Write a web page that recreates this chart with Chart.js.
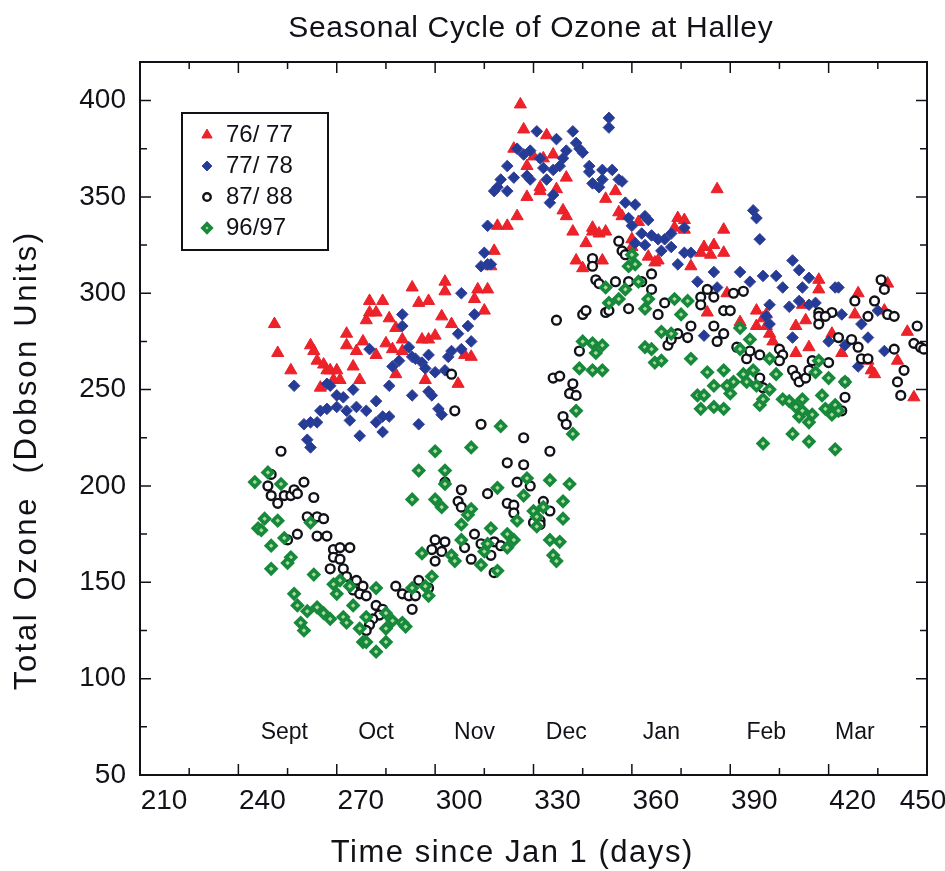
<!DOCTYPE html>
<html>
<head>
<meta charset="utf-8">
<script src="https://cdn.jsdelivr.net/npm/chart.js@4.4.0/dist/chart.umd.min.js"></script>
<style>
  html, body { margin: 0; background: #fff; }
  #wrap { width: 945px; height: 871px; }
</style>
</head>
<body>
<div id="wrap"><canvas id="ozone"></canvas></div>
<script>
// values: [day since Jan 1, total ozone DU]
var ozone7677 = [
  [251,284],[252,269],[256,260],[262,273],[263,270],[264,265],[265,251],[266,263],[267,260],[268,260],
  [269,255],[270,260],[271,255],[273,279],[273,273],[275,262],[276,270],[277,255],[278,275],[279,286],
  [280,290],[280,296],[282,290],[282,268],[284,296],[285,274],[286,287],[287,271],[288,282],[288,258],
  [290,276],[290,270],[293,303],[295,295],[296,276],[297,255],[298,276],[298,296],[300,278],[302,288],
  [303,306],[303,301],[305,284],[307,253],[309,268],[311,267],[312,297],[313,302],[315,291],[316,302],
  [317,314],[318,322],[319,335],[322,335],[324,375],[325,340],[326,398],[327,385],[328,350],[328,366],
  [330,371],[332,355],[332,353],[333,370],[334,382],[336,372],[337,354],[339,343],[340,340],[340,360],
  [342,332],[343,317],[345,313],[346,326],[348,332],[348,334],[350,331],[351,317],[352,332],[352,349],
  [355,353],[356,342],[357,340],[360,328],[360,324],[362,337],[365,319],[367,316],[368,317],[373,334],
  [374,339],[376,333],[376,338],[378,314],[381,321],[382,324],[383,290],[384,320],[385,325],[386,354],
  [388,333],[388,321],[389,300],[393,285],[398,291],[398,283],[400,287],[401,283],[401,289],[402,279],
  [403,275],[410,283],[410,269],[412,294],[413,286],[414,272],[417,302],[417,307],[421,279],[424,269],
  [428,289],[429,300],[432,265],[433,260],[434,258],[437,291],[438,305],[441,265],[444,280],[446,246]
];
var ozone7778 = [
  [257,252],[260,232],[261,224],[262,220],[262,233],[264,233],[265,239],[267,240],[267,253],[268,252],
  [270,247],[270,241],[272,246],[273,239],[274,234],[275,250],[276,241],[277,226],[279,239],[280,271],
  [282,244],[282,233],[284,228],[284,236],[286,252],[286,236],[287,262],[289,265],[290,283],[290,289],
  [292,272],[293,267],[293,247],[294,266],[295,232],[296,264],[297,261],[298,249],[298,268],[299,247],
  [300,259],[301,240],[302,237],[303,260],[304,267],[305,270],[307,279],[308,300],[308,271],[310,283],
  [311,275],[312,289],[314,314],[315,321],[316,315],[316,335],[317,315],[318,353],[319,355],[320,359],
  [322,353],[322,366],[324,360],[325,375],[327,372],[328,361],[329,374],[329,359],[331,384],[332,370],
  [333,365],[334,359],[335,347],[336,351],[336,364],[337,380],[338,366],[339,370],[340,374],[342,384],
  [343,378],[344,375],[345,373],[347,363],[347,366],[348,357],[350,355],[351,364],[351,359],[353,391],
  [353,386],[354,364],[356,359],[357,358],[358,347],[359,339],[360,335],[361,346],[361,326],[363,331],
  [364,325],[364,340],[365,338],[366,330],[368,328],[369,322],[370,328],[372,331],[372,324],[374,315],
  [376,334],[376,321],[378,321],[380,306],[382,278],[385,311],[386,303],[393,311],[396,306],[397,343],
  [398,339],[399,328],[400,309],[401,288],[402,284],[402,294],[404,309],[406,303],[408,293],[409,317],
  [409,277],[411,312],[411,296],[412,303],[414,308],[414,294],[416,295],[420,275],[422,303],[423,303],
  [424,289],[425,273],[429,262],[430,284],[432,277],[435,291],[437,270]
];
var ozone8788 = [
  [249,200],[250,206],[250,195],[252,191],[253,218],[254,195],[256,195],[257,198],[258,196],[260,202],
  [263,194],[261,184],[264,184],[266,183],[258,175],[255,172],[264,174],[267,174],[269,167],[271,168],
  [274,168],[269,163],[271,162],[268,157],[272,157],[273,153],[276,151],[278,148],[275,146],[277,144],
  [279,143],[282,138],[284,136],[283,133],[281,131],[280,128],[279,125],[288,148],[290,144],[292,143],
  [294,143],[293,136],[295,151],[298,147],[299,167],[300,172],[303,171],[302,166],[300,161],[303,202],
  [305,258],[306,239],[307,192],[308,198],[308,189],[309,168],[311,162],[312,175],[314,170],[314,232],
  [316,196],[317,164],[318,171],[320,169],[318,155],[322,191],[322,212],[324,190],[324,186],[325,202],
  [327,211],[327,225],[329,200],[330,181],[332,182],[332,180],[333,192],[335,187],[335,218],[336,256],
  [337,286],[338,257],[339,236],[340,232],[341,248],[342,253],[343,247],[344,270],[345,289],[346,291],
  [348,318],[348,314],[349,307],[350,305],[352,290],[353,291],[355,306],[356,327],[357,322],[358,320],
  [359,306],[359,292],[363,306],[366,310],[366,302],[368,289],[370,295],[371,273],[372,276],[374,279],
  [377,277],[378,283],[381,298],[381,294],[383,302],[385,298],[385,283],[386,275],[388,279],[388,291],
  [390,291],[391,300],[392,272],[394,301],[395,266],[396,270],[399,268],[399,256],[400,251],[405,271],
  [406,268],[405,265],[409,260],[415,265],[410,257],[411,254],[413,256],[414,260],[417,290],[421,290],
  [417,288],[419,288],[417,284],[420,264],[423,277],[427,276],[428,296],[429,272],[430,266],[432,266],
  [432,288],[434,296],[436,307],[437,302],[438,289],[440,288],[440,271],[441,254],[442,247],[443,260],
  [425,254],[425,246],[424,239],[447,283],[446,274],[448,272],[449,271]
];
var ozone9697 = [
  [245,202],[249,207],[253,201],[248,183],[252,182],[246,178],[247,177],[262,181],[254,173],[250,169],
  [256,163],[255,160],[250,157],[263,154],[271,151],[269,149],[274,148],[257,144],[270,144],[258,138],
  [261,135],[264,137],[266,134],[268,131],[272,132],[273,129],[259,129],[260,125],[275,138],[277,126],
  [278,119],[279,119],[282,114],[282,147],[285,134],[287,130],[285,126],[285,119],[290,129],[291,127],
  [293,147],[296,165],[297,148],[298,143],[279,132],[295,208],[293,193],[299,153],[300,193],[300,218],
  [302,189],[303,201],[303,208],[305,164],[306,161],[308,172],[308,180],[310,185],[311,188],[311,220],
  [314,159],[315,166],[316,170],[317,178],[319,156],[319,199],[320,231],[322,175],[322,168],[324,172],
  [325,182],[327,195],[328,204],[330,187],[331,184],[331,179],[333,189],[335,203],[335,172],[336,164],
  [337,161],[338,171],[339,192],[339,183],[341,201],[342,227],[343,239],[344,261],[345,275],[348,274],
  [348,260],[349,269],[351,273],[351,260],[352,303],[353,295],[356,297],[358,302],[359,314],[360,320],
  [361,315],[362,306],[364,292],[364,272],[365,297],[366,271],[367,264],[369,265],[369,280],[372,279],
  [373,297],[375,289],[377,296],[378,266],[380,247],[381,240],[382,247],[383,259],[385,241],[385,252],
  [388,240],[388,260],[389,252],[390,248],[391,254],[393,282],[393,271],[394,258],[395,254],[396,276],
  [397,260],[398,252],[399,242],[400,245],[400,222],[402,266],[402,250],[404,258],[406,245],[408,244],
  [409,227],[410,241],[411,236],[412,245],[412,239],[414,233],[414,223],[415,237],[416,259],[417,265],
  [418,247],[419,240],[420,256],[421,237],[422,242],[422,219],[423,239],[425,254]
];

var seriesLabels = ["76/ 77", "77/ 78", "87/ 88", "96/97"];
var xTickLabels = [210, 240, 270, 300, 330, 360, 390, 420, 450];
var yTickLabels = [50, 100, 150, 200, 250, 300, 350, 400];
var monthNames = ["Sept", "Oct", "Nov", "Dec", "Jan", "Feb", "Mar"];
var monthDays = [254, 282, 312, 340, 369, 401, 428];

var FONT = "'Liberation Sans', Arial, sans-serif";
var INK = "#111118";

function toPoints(rows) {
  return rows.map(function (r) { return { x: r[0], y: r[1] }; });
}

var styles = [
  { pointStyle: "triangle", radius: 7, borderWidth: 1, borderColor: "#e8202a", backgroundColor: "#ee2229" },
  { pointStyle: "rectRot", radius: 5.8, borderWidth: 1, borderColor: "#3a3f9a", backgroundColor: "#233d96" },
  { pointStyle: "circle", radius: 4.4, borderWidth: 2.4, borderColor: INK, backgroundColor: "#ffffff" },
  { pointStyle: "rectRot", radius: 4.8, borderWidth: 3.6, borderColor: "#17893a", backgroundColor: "#a9d9a0" }
];
var seriesData = [ozone7677, ozone7778, ozone8788, ozone9697];

var datasets = seriesData.map(function (rows, i) {
  var s = styles[i];
  return {
    label: seriesLabels[i],
    data: toPoints(rows),
    pointStyle: s.pointStyle,
    pointRadius: s.radius,
    pointBorderWidth: s.borderWidth,
    pointBorderColor: s.borderColor,
    pointBackgroundColor: s.backgroundColor,
    showLine: false,
    order: 3 - i
  };
});

// draw text stretched to a given width with letter spacing
function spacedText(ctx, text, x, y, width) {
  ctx.letterSpacing = "0px";
  var w = ctx.measureText(text).width;
  var sp = Math.max(0, (width - w) / text.length);
  ctx.letterSpacing = sp + "px";
  ctx.fillText(text, x + sp / 2, y);
  ctx.letterSpacing = "0px";
}

// frame, inward ticks, labels, legend
var decorPlugin = {
  id: "decor",
  afterDraw: function (chart) {
    var ctx = chart.ctx;
    var a = chart.chartArea;
    var xs = chart.scales.x;
    var ys = chart.scales.y;
    ctx.save();

    ctx.strokeStyle = INK;
    ctx.lineWidth = 2;
    ctx.strokeRect(a.left, a.top, a.right - a.left, a.bottom - a.top);

    ctx.lineWidth = 1.5;
    ctx.beginPath();
    for (var d = 225; d < 450; d += 15) {
      var px = xs.getPixelForValue(d);
      var len = (d - 210) % 30 === 0 ? 11 : 7;
      ctx.moveTo(px, a.bottom); ctx.lineTo(px, a.bottom - len);
      ctx.moveTo(px, a.top); ctx.lineTo(px, a.top + len);
    }
    for (var v = 75; v < 420; v += 25) {
      var py = ys.getPixelForValue(v);
      var l2 = v % 50 === 0 ? 11 : 7;
      ctx.moveTo(a.left, py); ctx.lineTo(a.left + l2, py);
      ctx.moveTo(a.right, py); ctx.lineTo(a.right - l2, py);
    }
    ctx.stroke();

    ctx.fillStyle = INK;
    ctx.textBaseline = "middle";

    // x tick labels
    ctx.font = "28px " + FONT;
    ctx.textAlign = "center";
    xTickLabels.forEach(function (t) {
      var px = Math.min(xs.getPixelForValue(t) + 24, a.right - 4);
      ctx.fillText(String(t), px, a.bottom + 26);
    });

    // month names
    ctx.font = "23px " + FONT;
    monthNames.forEach(function (m, i) {
      ctx.fillText(m, xs.getPixelForValue(monthDays[i]), ys.getPixelForValue(72));
    });

    // title and axis titles
    var cx = (a.left + a.right) / 2;
    var cy = (a.top + a.bottom) / 2;
    ctx.font = "30px " + FONT;
    spacedText(ctx, "Seasonal Cycle of Ozone at Halley", cx - 3, 29, 485);
    ctx.font = "31px " + FONT;
    spacedText(ctx, "Time since Jan 1 (days)", cx - 22, a.bottom + 78, 363);
    ctx.save();
    ctx.translate(27, cy + 43);
    ctx.rotate(-Math.PI / 2);
    ctx.font = "31px " + FONT;
    spacedText(ctx, "Total Ozone  (Dobson Units)", 0, 0, 460);
    ctx.restore();

    // legend box
    var bx = a.left + 42, by = a.top + 51, bw = 146, bh = 137;
    ctx.lineWidth = 2;
    ctx.strokeStyle = INK;
    ctx.strokeRect(bx, by, bw, bh);
    ctx.font = "24px " + FONT;
    ctx.textAlign = "left";
    seriesLabels.forEach(function (lab, i) {
      var s = styles[i];
      var iy = by + 22 + i * 31;
      ctx.fillStyle = s.backgroundColor;
      ctx.strokeStyle = s.borderColor;
      ctx.lineWidth = s.borderWidth;
      Chart.helpers.drawPoint(ctx, {
        pointStyle: s.pointStyle,
        radius: s.radius * 0.85,
        rotation: 0,
        borderWidth: s.borderWidth
      }, bx + 25, iy);
      ctx.fillStyle = INK;
      ctx.fillText(lab, bx + 44, iy);
    });

    ctx.restore();
  }
};

new Chart(document.getElementById("ozone"), {
  type: "scatter",
  data: { datasets: datasets },
  options: {
    responsive: true,
    maintainAspectRatio: false,
    animation: false,
    layout: { padding: { top: 62, right: 18, bottom: 0, left: 0 } },
    plugins: {
      legend: { display: false },
      tooltip: { enabled: false }
    },
    scales: {
      x: {
        type: "linear",
        min: 210,
        max: 450,
        grid: { display: false, drawTicks: false },
        border: { display: false },
        ticks: { display: false },
        afterFit: function (s) { s.height = 96; }
      },
      y: {
        type: "linear",
        min: 50,
        max: 420,
        grid: { display: false, drawTicks: false },
        border: { display: false },
        ticks: {
          padding: 14,
          color: INK,
          font: { family: FONT, size: 28 }
        },
        afterBuildTicks: function (s) {
          s.ticks = yTickLabels.map(function (v) { return { value: v }; });
        },
        afterFit: function (s) { s.width = 140; }
      }
    }
  },
  plugins: [decorPlugin]
});
</script>
</body>
</html>
